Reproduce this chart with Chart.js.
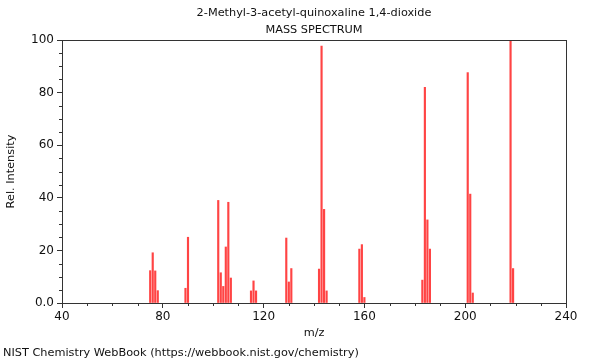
<!DOCTYPE html>
<html>
<head>
<meta charset="utf-8">
<script src="https://cdn.jsdelivr.net/npm/chart.js@4"></script>
<style>
  body { margin: 0; background: #fff; }
  #wrap { width: 600px; height: 360px; position: relative; }
</style>
</head>
<body>
<div id="wrap"><canvas id="spec" width="600" height="360"></canvas></div>
<script>
// peaks
const mz = [75, 76, 77, 78, 89, 90, 102, 103, 104, 105, 106, 107, 115, 116, 117,
            129, 130, 131, 142, 143, 144, 145, 158, 159, 160, 183, 184, 185, 186,
            201, 202, 203, 218, 219];
const intensity = [12.3, 19.1, 12.2, 4.7, 5.6, 25, 39, 11.5, 6.3, 21.3, 38.3, 9.5, 4.6, 8.4, 4.6,
                   24.7, 8, 13.1, 12.9, 97.7, 35.6, 4.6, 20.5, 22.2, 2.1, 8.7, 82, 31.6, 20.5,
                   87.6, 41.4, 3.8, 100, 13.1];
const xTicks = [40, 80, 120, 160, 200, 240];
const yTicks = [0, 20, 40, 60, 80, 100];

const titleLines = ['2-Methyl-3-acetyl-quinoxaline 1,4-dioxide', 'MASS SPECTRUM'];
const font = 'DejaVu Sans';

// frame, minor ticks and the text round the plot
const decor = {
    id: 'decor',
    afterDraw(chart) {
        const c = chart.ctx;
        const a = chart.chartArea;
        const sx = chart.scales.x, sy = chart.scales.y;
        c.save();
        c.strokeStyle = '#333';
        c.lineWidth = 1;
        c.strokeRect(a.left + 0.5, a.top + 0.5, a.right - a.left, a.bottom - a.top);
        c.beginPath();
        for (let v = 40; v <= 240; v += 10) {
            if (v % 40 === 0) continue;
            const px = Math.round(sx.getPixelForValue(v)) + 0.5;
            c.moveTo(px, a.bottom);
            c.lineTo(px, a.bottom + 3);
        }
        for (let v = 0; v <= 100; v += 5) {
            if (v % 20 === 0) continue;
            const py = Math.round(sy.getPixelForValue(v)) + 0.5;
            c.moveTo(a.left, py);
            c.lineTo(a.left - 3, py);
        }
        c.stroke();

        const cx = (a.left + a.right) / 2;
        c.fillStyle = '#111';
        c.font = '11.3px ' + font;
        c.textAlign = 'center';
        c.textBaseline = 'middle';
        c.fillText(titleLines[0], cx, 13);
        c.fillText(titleLines[1], cx, 30);
        c.fillText('m/z', cx, 333);
        c.save();
        c.translate(11, (a.top + a.bottom) / 2);
        c.rotate(-Math.PI / 2);
        c.fillText('Rel. Intensity', 0, 0);
        c.restore();
        c.textAlign = 'left';
        c.fillText('NIST Chemistry WebBook (https://webbook.nist.gov/chemistry)', 3, 353);
        c.restore();
    }
};

new Chart(document.getElementById('spec'), {
    type: 'bar',
    data: {
        datasets: [{
            data: mz.map((m, i) => ({ x: m, y: intensity[i] })),
            backgroundColor: '#ff4444',
            barThickness: 1.5
        }]
    },
    options: {
        responsive: false,
        animation: false,
        layout: { padding: { top: 40, right: 34, left: 0, bottom: 0 } },
        plugins: { legend: { display: false }, tooltip: { enabled: false } },
        scales: {
            x: {
                type: 'linear',
                offset: false,
                min: 40,
                max: 240,
                afterFit(s) { s.height = 57; },
                afterBuildTicks(s) { s.ticks = xTicks.map(v => ({ value: v })); },
                ticks: { color: '#111', font: { family: font, size: 12 }, padding: 2, maxRotation: 0 },
                grid: { offset: false, drawOnChartArea: false, tickLength: 5, color: '#333' },
                border: { color: '#333' }
            },
            y: {
                min: 0,
                max: 100,
                afterFit(s) { s.width = 62; },
                afterBuildTicks(s) { s.ticks = yTicks.map(v => ({ value: v })); },
                ticks: {
                    color: '#111',
                    font: { family: font, size: 12 },
                    padding: 3,
                    callback: v => v === 0 ? '0.0' : v
                },
                grid: { drawOnChartArea: false, tickLength: 5, color: '#333' },
                border: { color: '#333' }
            }
        }
    },
    plugins: [decor]
});
</script>
</body>
</html>
